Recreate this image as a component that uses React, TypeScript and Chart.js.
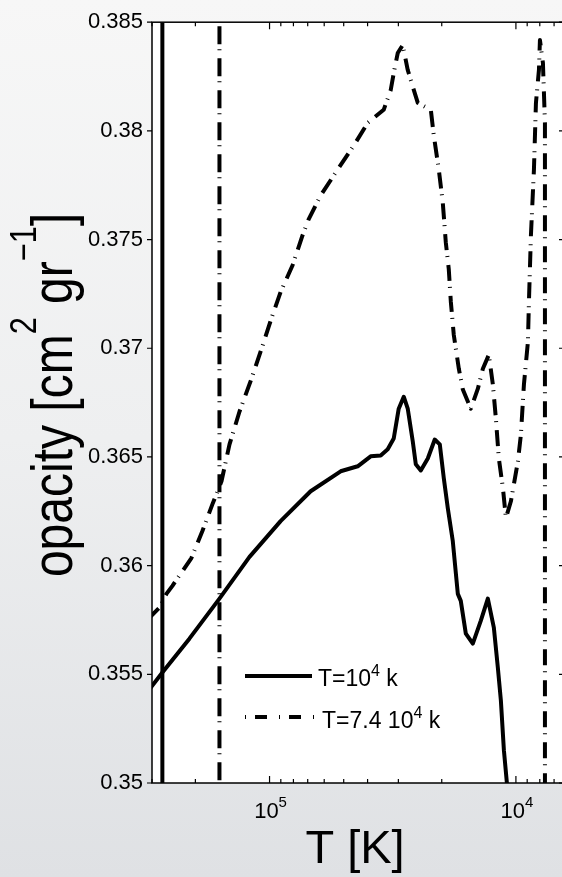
import { useEffect, useRef } from "react";
import { Chart, registerables } from "chart.js";

Chart.register(...registerables);

// ---------- data ----------
const T_SOLID = [307400, 272300, 211500, 159700, 120600, 90200, 68100, 51450, 43880, 38860, 35380, 33140, 31330, 29900, 28530, 27480, 26220, 25490, 24330, 22790, 21350, 20370, 19620, 18900, 18040, 17210, 16740, 15970, 14960, 13880, 13000, 12290, 11840, 11510, 11190, 10880, 10780];
const OPACITY_SOLID = [0.35431, 0.35508, 0.35664, 0.35848, 0.3604, 0.36205, 0.36342, 0.36434, 0.36457, 0.36503, 0.36507, 0.36535, 0.36585, 0.36722, 0.36777, 0.36722, 0.36571, 0.36466, 0.36438, 0.36493, 0.3658, 0.36558, 0.36402, 0.36264, 0.36113, 0.3587, 0.35838, 0.35687, 0.35641, 0.35747, 0.35848, 0.35715, 0.35531, 0.3538, 0.35151, 0.35, 0.34922];

const T_DASH = [313300, 280100, 262200, 247900, 207600, 187300, 170500, 156700, 145400, 132400, 118400, 107800, 97230, 90220, 80630, 73430, 69410, 62030, 52920, 45550, 39960, 34410, 32220, 31330, 30180, 28800, 27480, 26720, 25020, 22150, 21540, 20560, 19810, 19260, 18730, 18370, 17870, 17050, 16420, 15240, 14270, 13620, 12880, 12400, 12060, 11730, 11290, 10980, 10480, 9815, 9544, 9280, 8939, 8855, 8691, 8450, 8293, 8064, 7989, 7768, 7624, 7624];
const OPACITY_DASH = [0.35751, 0.35806, 0.3587, 0.35907, 0.36035, 0.36159, 0.36283, 0.36388, 0.36558, 0.36709, 0.3686, 0.36997, 0.37153, 0.37258, 0.37382, 0.3752, 0.37593, 0.37703, 0.37822, 0.37932, 0.38037, 0.38097, 0.38188, 0.38266, 0.38358, 0.38395, 0.3828, 0.38234, 0.38129, 0.38097, 0.37978, 0.37822, 0.37671, 0.37488, 0.37364, 0.37213, 0.37061, 0.36906, 0.3681, 0.36722, 0.36814, 0.36906, 0.3697, 0.36832, 0.36677, 0.36493, 0.36356, 0.36219, 0.36296, 0.3648, 0.36603, 0.36832, 0.37029, 0.37213, 0.3752, 0.37822, 0.38129, 0.3828, 0.38418, 0.38312, 0.38037, 0.34922];

const VLINE_SOLID_T = 272300;
const VLINE_DASH_T = 159700;

const Y_MIN = 0.35;
const Y_MAX = 0.385;
const Y_TICKS = [0.35, 0.355, 0.36, 0.365, 0.37, 0.375, 0.38, 0.385];
const Y_TICK_LABELS = ["0.35", "0.355", "0.36", "0.365", "0.37", "0.375", "0.38", "0.385"];

const X_MIN = 6380;
const X_MAX = 300000;
const X_MAJOR = [10000, 100000];
const X_MAJOR_EXP = ["4", "5"];
const X_DECADES = [1000, 10000, 100000];
const X_MINOR_MULT = [2, 3, 4, 5, 6, 7, 8, 9];

const LEGEND_PARTS: [string, boolean][][] = [
  [["T=10", false], ["4", true], [" k", false]],
  [["T=7.4 10", false], ["4", true], [" k", false]],
];
const Y_TITLE_PARTS: [string, boolean][] = [
  ["opacity [cm", false],
  ["2", true],
  [" gr", false],
  ["\u22121", true],
  ["]", false],
];
const X_TITLE = "T [K]";

const FONT = '"Liberation Sans", Arial, Helvetica, sans-serif';
const DASH_CURVE = [16, 6, 1, 8];
const DASH_VLINE = [18, 5, 1, 8];

function drawParts(
  ctx: CanvasRenderingContext2D,
  parts: [string, boolean][],
  x: number,
  y: number,
  size: number,
  supSize: number,
  raise: number,
  align: "left" | "center"
) {
  ctx.textAlign = "left";
  ctx.textBaseline = "alphabetic";
  let total = 0;
  const widths = parts.map(([t, sup]) => {
    ctx.font = `${sup ? supSize : size}px ${FONT}`;
    const w = ctx.measureText(t).width;
    total += w;
    return w;
  });
  let cx = align === "center" ? x - total / 2 : x;
  parts.forEach(([t, sup], i) => {
    ctx.font = `${sup ? supSize : size}px ${FONT}`;
    ctx.fillText(t, cx, sup ? y - raise : y);
    cx += widths[i];
  });
}

const decorPlugin = {
  id: "decor",
  beforeDraw(chart: any) {
    const { ctx, chartArea: a } = chart;
    ctx.save();
    ctx.fillStyle = "#ffffff";
    ctx.fillRect(a.left, a.top, a.right - a.left, a.bottom - a.top);
    ctx.restore();
  },
  afterDraw(chart: any) {
    const { ctx, chartArea: a } = chart;
    const xs = chart.scales.x;
    const ys = chart.scales.y;
    ctx.save();
    ctx.strokeStyle = "#000";
    ctx.fillStyle = "#000";
    ctx.lineWidth = 1.5;
    ctx.setLineDash([]);
    ctx.strokeRect(a.left, a.top, a.right - a.left, a.bottom - a.top);

    ctx.lineWidth = 1.2;
    ctx.beginPath();
    Y_TICKS.forEach((v) => {
      const py = ys.getPixelForValue(v);
      ctx.moveTo(a.left - 5, py);
      ctx.lineTo(a.left, py);
      ctx.moveTo(a.right - 5, py);
      ctx.lineTo(a.right, py);
    });
    const xTick = (v: number, len: number) => {
      if (v < X_MIN || v > X_MAX) return;
      const px = xs.getPixelForValue(v);
      ctx.moveTo(px, a.top);
      ctx.lineTo(px, a.top + len);
      ctx.moveTo(px, a.bottom);
      ctx.lineTo(px, a.bottom - len);
    };
    X_DECADES.forEach((d) => X_MINOR_MULT.forEach((m) => xTick(m * d, 4)));
    X_MAJOR.forEach((v) => xTick(v, 7));
    ctx.stroke();

    // x tick labels
    X_MAJOR.forEach((v, i) => {
      const px = xs.getPixelForValue(v);
      drawParts(ctx, [["10", false], [X_MAJOR_EXP[i], true]], px + 1, 818, 22, 15, 11, "center");
    });

    // legend
    const lx0 = 245;
    const lx1 = 312;
    ctx.lineWidth = 4;
    ctx.lineCap = "butt";
    ctx.beginPath();
    ctx.moveTo(lx0, 676);
    ctx.lineTo(lx1, 676);
    ctx.stroke();
    ctx.setLineDash([1, 9, 12, 12]);
    ctx.beginPath();
    ctx.moveTo(lx0, 717);
    ctx.lineTo(lx1 + 2, 717);
    ctx.stroke();
    ctx.setLineDash([]);
    drawParts(ctx, LEGEND_PARTS[0], 318, 686, 23, 16, 10, "left");
    drawParts(ctx, LEGEND_PARTS[1], 322, 728, 23, 16, 10, "left");

    // x title
    ctx.font = `47px ${FONT}`;
    ctx.textAlign = "center";
    ctx.textBaseline = "alphabetic";
    ctx.fillText(X_TITLE, (a.left + a.right) / 2 - 3, 863);

    // y title
    ctx.translate(72, 395);
    ctx.rotate(-Math.PI / 2);
    ctx.scale(0.96, 1.15);
    drawParts(ctx, Y_TITLE_PARTS, 0, 0, 50, 32, 31, "center");
    ctx.restore();
  },
};

export default function App() {
  const ref = useRef<HTMLCanvasElement | null>(null);
  useEffect(() => {
    if (!ref.current) return;
    const solid = T_SOLID.map((t, i) => ({ x: t, y: OPACITY_SOLID[i] }));
    const dash = T_DASH.map((t, i) => ({ x: t, y: OPACITY_DASH[i] }));
    const chart = new Chart(ref.current, {
      type: "line",
      data: {
        datasets: [
          {
            label: "vline solid",
            data: [
              { x: VLINE_SOLID_T, y: Y_MAX },
              { x: VLINE_SOLID_T, y: Y_MIN },
            ],
            borderColor: "#000",
            borderWidth: 4,
            pointRadius: 0,
            clip: 0,
          },
          {
            label: "vline dash",
            data: [
              { x: VLINE_DASH_T, y: Y_MAX },
              { x: VLINE_DASH_T, y: Y_MIN },
            ],
            borderColor: "#000",
            borderWidth: 4,
            borderDash: DASH_VLINE,
            borderDashOffset: 28,
            borderCapStyle: "butt",
            pointRadius: 0,
            clip: 0,
          },
          {
            label: "T=10^4 k",
            data: solid,
            borderColor: "#000",
            borderWidth: 4,
            borderJoinStyle: "round",
            pointRadius: 0,
            tension: 0,
            clip: 0,
          },
          {
            label: "T=7.4 10^4 k",
            data: dash,
            borderColor: "#000",
            borderWidth: 4,
            borderDash: DASH_CURVE,
            borderCapStyle: "butt",
            borderJoinStyle: "round",
            pointRadius: 0,
            tension: 0,
            clip: 0,
          },
        ],
      } as any,
      options: {
        animation: false,
        responsive: false,
        devicePixelRatio: 1,
        events: [],
        layout: { padding: { top: 19, right: 6, left: 0, bottom: 0 } },
        plugins: { legend: { display: false }, tooltip: { enabled: false }, title: { display: false } },
        scales: {
          x: {
            type: "logarithmic",
            min: X_MIN,
            max: X_MAX,
            reverse: true,
            grid: { display: false, drawTicks: false },
            border: { display: false },
            ticks: { display: false },
            afterFit: (s: any) => {
              s.height = 94;
            },
          },
          y: {
            type: "linear",
            min: Y_MIN,
            max: Y_MAX,
            grid: { display: false, drawTicks: false },
            border: { display: false },
            afterBuildTicks: (s: any) => {
              s.ticks = Y_TICKS.map((v) => ({ value: v }));
            },
            ticks: {
              padding: 9,
              color: "#000",
              font: { family: FONT, size: 22 },
              callback: (v: any) => {
                const i = Y_TICKS.findIndex((t) => Math.abs(t - Number(v)) < 1e-9);
                return i >= 0 ? Y_TICK_LABELS[i] : "";
              },
            },
            afterFit: (s: any) => {
              s.width = 152;
            },
          },
        },
      } as any,
      plugins: [decorPlugin],
    });
    return () => chart.destroy();
  }, []);

  return (
    <div
      style={{
        position: "absolute",
        left: 0,
        top: 0,
        width: 562,
        height: 877,
        overflow: "hidden",
        background: "linear-gradient(to bottom, #f7f7f7 0%, #eeeff0 50%, #dfe1e4 100%)",
      }}
    >
      <canvas ref={ref} width={570} height={877} style={{ display: "block", width: 570, height: 877 }} />
    </div>
  );
}
